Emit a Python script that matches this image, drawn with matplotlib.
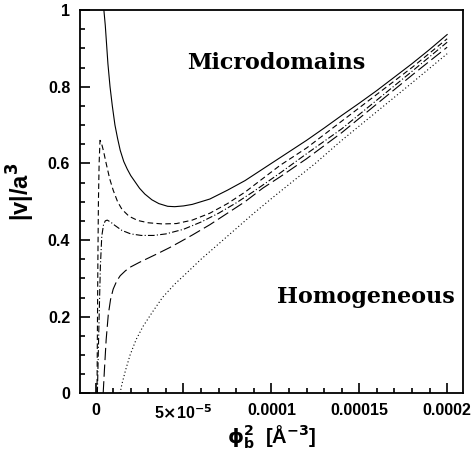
import numpy as np
import matplotlib
matplotlib.use('Agg')
from matplotlib import pyplot as plt
from matplotlib.ticker import MultipleLocator, FixedLocator

# x in units of 1e-5 (A^-3)
x_solid = [0.47, 0.55, 0.7, 0.82, 0.95, 1.1, 1.25, 1.4, 1.6, 1.8, 2.0, 2.5, 2.8, 3.2, 3.6, 4.1, 4.5,
           5.0, 5.5, 6.5, 7.5, 8.5, 9.4, 10.0, 11.0, 12.0, 13.0, 14.0, 15.0, 16.0, 17.0, 18.0, 19.0, 20.0]
y_solid = [1.0, 0.96, 0.86, 0.8, 0.75, 0.7, 0.665, 0.634, 0.605, 0.585, 0.568, 0.535, 0.52, 0.505, 0.495, 0.488, 0.487,
           0.489, 0.493, 0.507, 0.53, 0.555, 0.582, 0.60, 0.63, 0.66, 0.692, 0.725, 0.757, 0.79, 0.825, 0.86, 0.897, 0.936]

x_dash = [0.08, 0.1, 0.13, 0.16, 0.2, 0.25, 0.32, 0.45, 0.6, 0.8, 1.0, 1.25, 1.5, 1.9, 2.4, 3.0, 3.8, 4.6,
          5.5, 6.5, 7.5, 8.5, 9.5, 10.5, 12.0, 14.0, 16.0, 18.0, 20.0]
y_dash = [0.0, 0.15, 0.35, 0.5, 0.6, 0.66, 0.655, 0.632, 0.60, 0.56, 0.53, 0.50, 0.48, 0.462, 0.451, 0.445, 0.442, 0.443,
          0.452, 0.47, 0.495, 0.525, 0.56, 0.595, 0.64, 0.71, 0.78, 0.85, 0.925]

x_dashdot = [0.1, 0.15, 0.2, 0.27, 0.35, 0.45, 0.55, 0.66, 0.85, 1.1, 1.5, 2.0, 2.6, 3.3, 4.0, 5.0, 6.0, 7.0,
             8.0, 9.0, 10.5, 12.0, 14.0, 16.0, 18.0, 20.0]
y_dashdot = [0.0, 0.1, 0.2, 0.33, 0.41, 0.44, 0.45, 0.452, 0.447, 0.438, 0.425, 0.416, 0.412, 0.412, 0.416, 0.428, 0.447, 0.47,
             0.497, 0.527, 0.575, 0.625, 0.69, 0.765, 0.84, 0.916]

x_long = [0.43, 0.5, 0.6, 0.72, 0.85, 1.0, 1.2, 1.4, 1.7, 2.0, 2.5, 3.0, 3.5, 4.2, 4.8, 5.5, 6.5, 7.5,
          8.5, 9.5, 10.5, 12.0, 14.0, 16.0, 18.0, 20.0]
y_long = [0.0, 0.06, 0.14, 0.205, 0.245, 0.272, 0.293, 0.307, 0.32, 0.33, 0.342, 0.353, 0.364, 0.38, 0.395, 0.413, 0.44, 0.47,
          0.50, 0.535, 0.565, 0.612, 0.68, 0.755, 0.83, 0.903]

x_dot = [1.39, 1.5, 1.7, 1.96, 2.3, 2.7, 3.2, 3.8, 4.5, 5.2, 6.0, 7.0, 8.0, 9.0, 10.0, 11.0, 12.5, 14.0,
         16.0, 18.0, 20.0]
y_dot = [0.0, 0.025, 0.06, 0.1, 0.14, 0.175, 0.21, 0.25, 0.285, 0.315, 0.35, 0.39, 0.43, 0.47, 0.508, 0.545, 0.60, 0.66,
         0.735, 0.81, 0.886]

xticks = [0, 5e-5, 1e-4, 1.5e-4, 2e-4]
xlabels = ['0', r'5$\mathbf{\times}$10$^{\mathbf{-5}}$', '0.0001', '0.00015', '0.0002']
yticks = [0, 0.2, 0.4, 0.6, 0.8, 1.0]
ylabels = ['0', '0.2', '0.4', '0.6', '0.8', '1']

plt.rcParams['font.family'] = ['Liberation Sans', 'DejaVu Sans']
plt.rcParams['mathtext.fontset'] = 'dejavusans'

fig = plt.figure(figsize=(4.76, 4.55), dpi=100)
ax = fig.add_axes([0.168, 0.1354, 0.805, 0.8426])

s = 1e-5
ax.plot(np.array(x_solid)*s, y_solid, 'k-', lw=0.8)
ax.plot(np.array(x_dash)*s, y_dash, 'k-', lw=0.8, dashes=(5, 3))
ax.plot(np.array(x_dashdot)*s, y_dashdot, 'k-', lw=0.8, dashes=(6, 2, 1, 2))
ax.plot(np.array(x_long)*s, y_long, 'k-', lw=0.8, dashes=(11, 4))
ax.plot(np.array(x_dot)*s, y_dot, 'k-', lw=0.8, dashes=(1, 2.2))

ax.set_xlim(-0.89e-5, 2.091e-4)
ax.set_ylim(0, 1)

ax.xaxis.set_major_locator(FixedLocator(xticks))
ax.set_xticklabels(xlabels)
ax.xaxis.set_minor_locator(MultipleLocator(1e-5))
ax.yaxis.set_major_locator(FixedLocator(yticks))
ax.set_yticklabels(ylabels)
ax.yaxis.set_minor_locator(MultipleLocator(0.05))

ax.tick_params(which='both', direction='in', top=False, right=False, width=1.2)
ax.tick_params(which='major', length=7, labelsize=11.5, pad=7)
ax.tick_params(which='minor', length=3.5)
for lab in ax.get_xticklabels() + ax.get_yticklabels():
    lab.set_fontweight('bold')
for sp in ax.spines.values():
    sp.set_linewidth(1.3)

ax.set_xlabel(r'$\mathbf{\phi_{b}^{2}}$  [Å$^{\mathbf{-3}}$]', fontsize=14.5, fontweight='bold', labelpad=1)
ax.set_ylabel(r'|v|/a$^{\mathbf{3}}$', fontsize=17, fontweight='bold')
ax.yaxis.set_label_coords(-0.112, 0.527)

ax.text(10.25e-5, 0.863, 'Microdomains', family='DejaVu Serif', fontweight='bold',
        fontsize=16, ha='center', va='center')
ax.text(15.4e-5, 0.251, 'Homogeneous', family='DejaVu Serif', fontweight='bold',
        fontsize=16, ha='center', va='center')

fig.savefig('out.png', dpi=100)
